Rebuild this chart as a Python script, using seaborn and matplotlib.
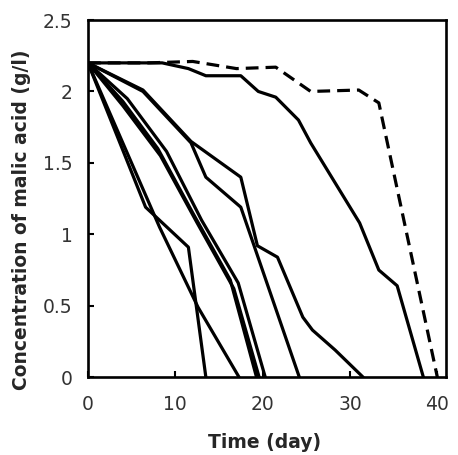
import numpy as np
import pandas as pd
import matplotlib
matplotlib.use("Agg")
import matplotlib.pyplot as plt
import seaborn as sns

# time (day) / malic acid (g/l), one run per pair
run_a_t = [0, 6.3, 11.8, 17.5, 19.4, 21.7, 24.6, 25.7, 28.3, 31.5]
run_a_c = [2.2, 2.01, 1.65, 1.4, 0.92, 0.84, 0.42, 0.33, 0.19, 0]
run_b_t = [0, 6.3, 11.8, 13.5, 17.5, 24.2]
run_b_c = [2.2, 2.0, 1.64, 1.4, 1.19, 0]
run_c_t = [0, 6.6, 11.5, 13.5]
run_c_c = [2.2, 1.19, 0.91, 0]
run_d_t = [0, 8.2, 12.6, 17.3]
run_d_c = [2.2, 1.05, 0.49, 0]
run_e_t = [0, 4, 8, 12, 16.3, 19.3]
run_e_c = [2.2, 1.93, 1.6, 1.15, 0.68, 0]
run_f_t = [0, 4.5, 9, 13, 17.2, 20.3]
run_f_c = [2.2, 1.95, 1.58, 1.1, 0.66, 0]
run_g_t = [0, 4, 8.3, 12.5, 16.7, 19.6]
run_g_c = [2.2, 1.9, 1.55, 1.08, 0.62, 0]
run_h_t = [0, 8.5, 11.5, 13.5, 17.5, 19.5, 21.5, 24.1, 25.5, 31.1, 33.3, 35.4, 38.4]
run_h_c = [2.2, 2.2, 2.16, 2.11, 2.11, 2.0, 1.96, 1.8, 1.64, 1.08, 0.75, 0.64, 0]
# dashed run
run_x_t = [0, 7, 12, 17, 21.5, 25.5, 31, 33.3, 40]
run_x_c = [2.2, 2.2, 2.21, 2.16, 2.17, 2.0, 2.01, 1.92, 0]

solid = [(run_a_t, run_a_c), (run_b_t, run_b_c), (run_c_t, run_c_c),
         (run_d_t, run_d_c), (run_e_t, run_e_c), (run_f_t, run_f_c),
         (run_g_t, run_g_c), (run_h_t, run_h_c)]

xticks = [0, 10, 20, 30, 40]
yticks = [0, 0.5, 1, 1.5, 2, 2.5]
ylabels = ["0", "0.5", "1", "1.5", "2", "2.5"]

sns.set_style("ticks")
plt.rcParams['font.family'] = ['DejaVu Sans']

fig = plt.figure(figsize=(4.58, 4.55), dpi=100)
ax = fig.add_axes([0.192, 0.171, 0.782, 0.785])

for t, c in solid:
    df = pd.DataFrame({'t': t, 'c': c})
    sns.lineplot(data=df, x='t', y='c', ax=ax, color='black', lw=2.3,
                 sort=False, estimator=None)
dfx = pd.DataFrame({'t': run_x_t, 'c': run_x_c})
sns.lineplot(data=dfx, x='t', y='c', ax=ax, color='black', lw=2.3,
             sort=False, estimator=None, linestyle=(0, (4, 2.2)))

ax.set_xlim(0, 41)
ax.set_ylim(0, 2.5)
ax.set_xticks(xticks)
ax.set_yticks(yticks)
ax.set_yticklabels(ylabels)
ax.tick_params(direction='in', length=4, width=1.5, labelsize=13.5,
               colors='black', labelcolor='#333333')
ax.tick_params(axis='x', pad=13)
ax.tick_params(axis='y', pad=11)
for s in ax.spines.values():
    s.set_linewidth(1.9)
    s.set_color('black')
ax.set_xlabel('Time (day)', fontsize=13.5, fontweight='bold')
ax.set_ylabel('Concentration of malic acid (g/l)', fontsize=13.5,
              fontweight='bold')
ax.xaxis.set_label_coords(0.494, -0.155)
ax.yaxis.set_label_coords(-0.158, 0.44)

fig.savefig('out.png', dpi=100)
